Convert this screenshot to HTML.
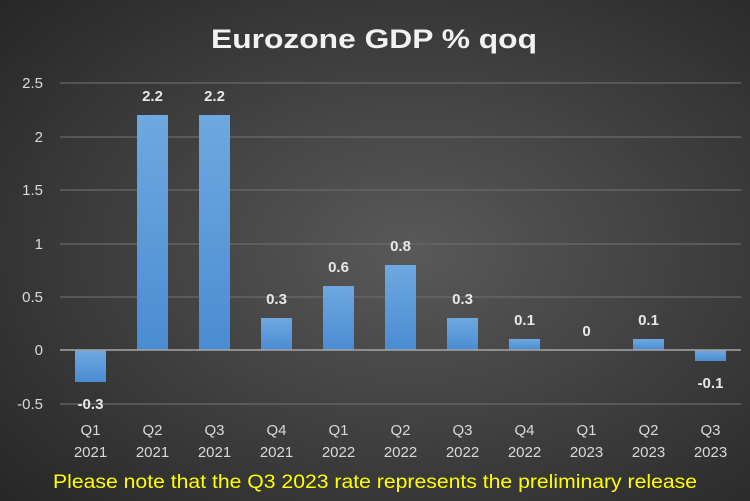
<!DOCTYPE html>
<html><head><meta charset="utf-8"><style>
body{margin:0;width:750px;height:501px;overflow:hidden}
svg{display:block}
text{font-family:"Liberation Sans",sans-serif}
</style></head><body>
<svg width="750" height="501" viewBox="0 0 750 501">
<defs>
<radialGradient id="bg" cx="55%" cy="50%" r="75%">
<stop offset="0" stop-color="#595959"/><stop offset="1" stop-color="#262626"/>
</radialGradient>
<linearGradient id="bar" x1="0" y1="0" x2="0" y2="1">
<stop offset="0" stop-color="#6fa8e0"/><stop offset="1" stop-color="#4a8cd2"/>
</linearGradient>
</defs>
<rect width="750" height="501" fill="url(#bg)"/>
<text x="211" y="48" font-size="27" font-weight="bold" fill="#f2f2f2" textLength="326" lengthAdjust="spacingAndGlyphs">Eurozone GDP % qoq</text>
<g stroke="#6a6a6a" stroke-width="1.2">
<line x1="60" x2="741" y1="83" y2="83"/><line x1="60" x2="741" y1="137" y2="137"/>
<line x1="60" x2="741" y1="190" y2="190"/><line x1="60" x2="741" y1="244" y2="244"/>
<line x1="60" x2="741" y1="297" y2="297"/><line x1="60" x2="741" y1="404" y2="404"/>
</g>
<g fill="#d9d9d9" font-size="15" text-anchor="end">
<text x="43" y="88">2.5</text><text x="43" y="142">2</text><text x="43" y="195">1.5</text>
<text x="43" y="249">1</text><text x="43" y="302">0.5</text><text x="43" y="355">0</text><text x="43" y="409">-0.5</text>
</g>
<g fill="url(#bar)">
<rect x="75" y="350" width="31" height="32"/>
<rect x="137" y="115" width="31" height="235"/>
<rect x="199" y="115" width="31" height="235"/>
<rect x="261" y="318" width="31" height="32"/>
<rect x="323" y="286" width="31" height="64"/>
<rect x="385" y="265" width="31" height="85"/>
<rect x="447" y="318" width="31" height="32"/>
<rect x="509" y="339" width="31" height="11"/>
<rect x="633" y="339" width="31" height="11"/>
<rect x="695" y="350" width="31" height="11"/>
</g>
<line x1="60" x2="741" y1="350" y2="350" stroke="#a6a6a6" stroke-width="1.5"/>
<g fill="#e8e8e8" font-size="15" font-weight="bold" text-anchor="middle">
<text x="90.5" y="409">-0.3</text><text x="152.5" y="101">2.2</text><text x="214.5" y="101">2.2</text>
<text x="276.5" y="304">0.3</text><text x="338.5" y="272">0.6</text><text x="400.5" y="251">0.8</text>
<text x="462.5" y="304">0.3</text><text x="524.5" y="325">0.1</text><text x="586.5" y="336">0</text>
<text x="648.5" y="325">0.1</text><text x="710.5" y="388">-0.1</text>
</g>
<g fill="#d9d9d9" font-size="15" text-anchor="middle">
<text x="90.5" y="435">Q1</text><text x="90.5" y="457">2021</text>
<text x="152.5" y="435">Q2</text><text x="152.5" y="457">2021</text>
<text x="214.5" y="435">Q3</text><text x="214.5" y="457">2021</text>
<text x="276.5" y="435">Q4</text><text x="276.5" y="457">2021</text>
<text x="338.5" y="435">Q1</text><text x="338.5" y="457">2022</text>
<text x="400.5" y="435">Q2</text><text x="400.5" y="457">2022</text>
<text x="462.5" y="435">Q3</text><text x="462.5" y="457">2022</text>
<text x="524.5" y="435">Q4</text><text x="524.5" y="457">2022</text>
<text x="586.5" y="435">Q1</text><text x="586.5" y="457">2023</text>
<text x="648.5" y="435">Q2</text><text x="648.5" y="457">2023</text>
<text x="710.5" y="435">Q3</text><text x="710.5" y="457">2023</text>
</g>
<text x="53" y="488" font-size="19" fill="#ffff00" textLength="644" lengthAdjust="spacingAndGlyphs">Please note that the Q3 2023 rate  represents the preliminary release</text>
</svg>
</body></html>
